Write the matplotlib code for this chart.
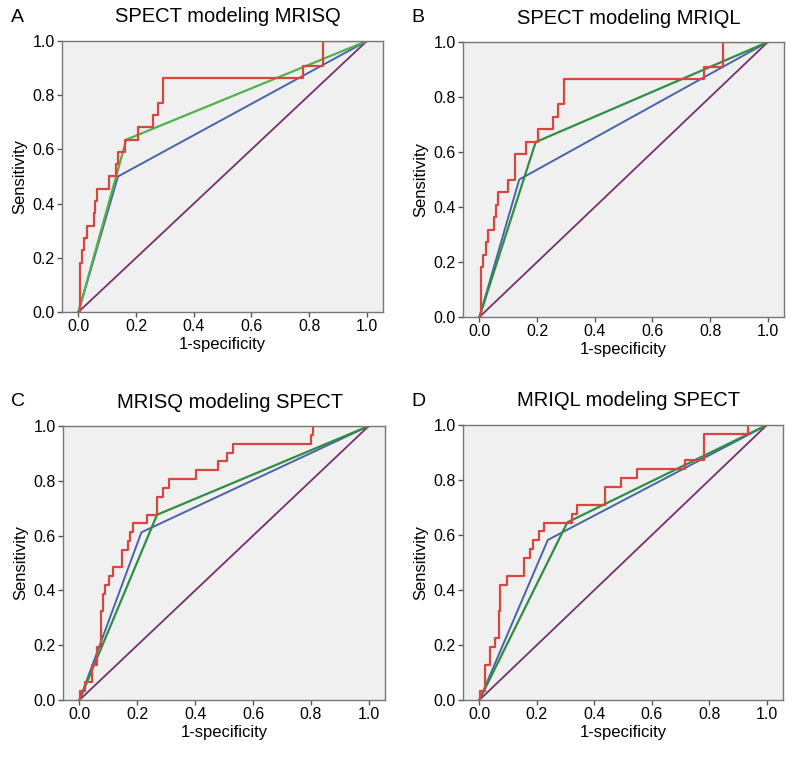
import numpy as np
import matplotlib
matplotlib.use('Agg')
import matplotlib.pyplot as plt

plt.rcParams['font.family'] = ['Liberation Sans', 'DejaVu Sans']

titles = ['SPECT modeling MRISQ', 'SPECT modeling MRIQL',
          'MRISQ modeling SPECT', 'MRIQL modeling SPECT']
letters = ['A', 'B', 'C', 'D']

# red ROC step curves: x where each jump happens, tpr after the jump
red_x_A = [0.007, 0.014, 0.021, 0.028, 0.055, 0.059, 0.065, 0.106, 0.129, 0.137,
           0.163, 0.207, 0.259, 0.277, 0.294, 0.777, 0.847]
red_y_A = [0.182, 0.227, 0.273, 0.318, 0.364, 0.409, 0.455, 0.500, 0.545, 0.591,
           0.636, 0.682, 0.727, 0.773, 0.864, 0.909, 1.0]

red_x_B = [0.006, 0.014, 0.022, 0.031, 0.052, 0.057, 0.065, 0.100, 0.124, 0.161,
           0.203, 0.255, 0.273, 0.294, 0.778, 0.845]
red_y_B = [0.182, 0.227, 0.273, 0.318, 0.364, 0.409, 0.455, 0.500, 0.591, 0.636,
           0.682, 0.727, 0.773, 0.864, 0.909, 1.0]

red_x_C = [0.003, 0.020, 0.044, 0.061, 0.075, 0.082, 0.087, 0.101, 0.116, 0.147,
           0.168, 0.176, 0.185, 0.233, 0.268, 0.287, 0.308, 0.403, 0.480, 0.509,
           0.529, 0.799, 0.808]
red_y_C = [0.032, 0.065, 0.129, 0.194, 0.323, 0.387, 0.419, 0.452, 0.484, 0.548,
           0.581, 0.613, 0.645, 0.677, 0.742, 0.774, 0.806, 0.839, 0.871, 0.903,
           0.935, 0.968, 1.0]

red_x_D = [0.003, 0.021, 0.038, 0.053, 0.067, 0.073, 0.096, 0.156, 0.177, 0.185,
           0.206, 0.226, 0.321, 0.341, 0.436, 0.494, 0.548, 0.714, 0.781, 0.933]
red_y_D = [0.032, 0.129, 0.194, 0.226, 0.323, 0.419, 0.452, 0.516, 0.548, 0.581,
           0.613, 0.645, 0.677, 0.710, 0.774, 0.806, 0.839, 0.871, 0.968, 1.0]

# blue and green: one operating point each, joined to (0,0) and (1,1)
blue_pt = [(0.137, 0.500), (0.138, 0.500), (0.214, 0.612), (0.238, 0.582)]
green_pt = [(0.166, 0.636), (0.195, 0.636), (0.268, 0.676), (0.306, 0.646)]

reds = [(red_x_A, red_y_A), (red_x_B, red_y_B), (red_x_C, red_y_C), (red_x_D, red_y_D)]

# axes boxes in pixels: left, top, right, bottom
boxes = [(62, 41, 383, 312), (463, 42, 784, 317),
         (63, 426, 385, 700), (463, 425, 783, 700)]

W, H = 796, 760
fig = plt.figure(figsize=(W / 100, H / 100), dpi=100)

c_red = '#d9453f'
c_blue = '#4a62aa'
c_green = ['#52b14c', '#2f8e42', '#2f8e42', '#2f8e42']
c_purple = '#74306f'
ticks = np.arange(0, 1.01, 0.2)

for i in range(4):
    l, t, r, b = boxes[i]
    ax = fig.add_axes([l / W, 1 - b / H, (r - l) / W, (b - t) / H])
    ax.set_facecolor('#f0f0f0')
    ax.plot([0, 1], [0, 1], color=c_purple, lw=1.3)
    bx, by = blue_pt[i]
    ax.plot([0, bx, 1], [0, by, 1], color=c_blue, lw=1.4)
    gx, gy = green_pt[i]
    ax.plot([0, gx, 1], [0, gy, 1], color=c_green[i], lw=1.6)
    rx, ry = reds[i]
    ax.step([0] + rx + [1], [0] + ry + [1], where='post', color=c_red, lw=1.6)
    ax.set_xlim(-0.057, 1.056)
    ax.set_ylim(0, 1)
    ax.set_xticks(ticks)
    ax.set_yticks(ticks)
    ax.set_xticklabels(['%.1f' % v for v in ticks])
    ax.set_yticklabels(['%.1f' % v for v in ticks])
    ax.tick_params(labelsize=11.5, length=3.6, width=1, color='#555555', pad=1.5)
    for s in ax.spines.values():
        s.set_color('#777777')
        s.set_linewidth(1)
    ax.set_xlabel('1-specificity', fontsize=12, labelpad=2)
    ax.set_ylabel('Sensitivity', fontsize=12, labelpad=4)
    fig.text((l + r) / 2 / W + 0.007, 1 - (t - 24) / H, titles[i], fontsize=14.5,
             ha='center', va='center')
    fig.text((l - 45) / W, 1 - (t - 24) / H, letters[i], fontsize=14,
             ha='center', va='center')

fig.savefig('out.png', dpi=100)
